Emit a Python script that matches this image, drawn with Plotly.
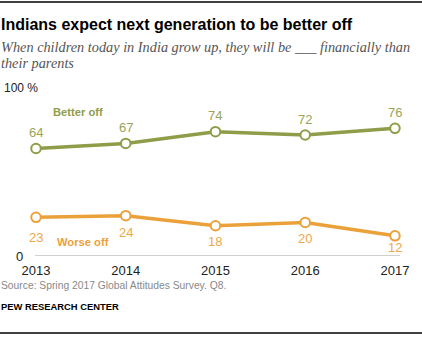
import plotly.graph_objects as go

years = [2013, 2014, 2015, 2016, 2017]
better_off = [64, 67, 74, 72, 76]
worse_off = [23, 24, 18, 20, 12]

GREEN = "#8f9c48"
GREEN_TXT = "#9aa35a"
ORANGE = "#eba13a"
ORANGE_TXT = "#eda849"
SANS = "Liberation Sans, Arial"

W, H = 422, 337
L, R, T, B = 35, 22, 88, 81
PW, PH = W - L - R, H - T - B


def px(x):
    return (x - L) / PW


def py(y):
    return (H - B - y) / PH


fig = go.Figure()

for vals, color in [(better_off, GREEN), (worse_off, ORANGE)]:
    fig.add_trace(go.Scatter(
        x=years, y=vals, mode="lines+markers",
        line=dict(color=color, width=3.5),
        marker=dict(size=9.5, color="white", line=dict(color=color, width=2)),
        hoverinfo="skip", showlegend=False, cliponaxis=False,
    ))

ann = []
better_shift = [16, 16, 16, 16, 16]
worse_shift = [-20, -17, -16, -16, -12]
for x, v, s in zip(years, better_off, better_shift):
    ann.append(dict(x=x, y=v, text=str(v), showarrow=False, yshift=s,
                    xanchor="center", yanchor="middle",
                    font=dict(family=SANS, size=13, color=GREEN_TXT)))
for x, v, s in zip(years, worse_off, worse_shift):
    ann.append(dict(x=x, y=v, text=str(v), showarrow=False, yshift=s,
                    xanchor="center", yanchor="middle",
                    font=dict(family=SANS, size=13, color=ORANGE_TXT)))


def note(x, y, text, size, color, family=SANS, xanchor="left"):
    ann.append(dict(xref="paper", yref="paper", x=px(x), y=py(y), text=text,
                    xanchor=xanchor, yanchor="middle", showarrow=False,
                    font=dict(family=family, size=size, color=color)))


# series names
note(78, 112, "<b>Better off</b>", 11.2, GREEN, xanchor="center")
note(83, 242, "<b>Worse off</b>", 11.2, ORANGE, xanchor="center")

# axis end labels
note(2, 88, "100 %", 12, "#222")
note(25, 256, "0", 13, "#222", xanchor="right")

# title, subtitle, footer
note(-1, 24, "<b>Indians expect next generation to be better off</b>", 16, "#000")
note(-1, 47, "<i>When children today in India grow up, they will be ___ financially than</i>",
     14.3, "#555", family="Liberation Serif, Georgia")
note(-1, 63, "<i>their parents</i>", 14.3, "#555", family="Liberation Serif, Georgia")
note(-1, 285, "Source: Spring 2017 Global Attitudes Survey. Q8.", 10.3, "#888")
note(-1, 306, "<b>PEW RESEARCH CENTER</b>", 9.4, "#000")

shapes = [
    dict(type="line", xref="paper", yref="paper", x0=px(0), x1=px(422), y0=py(2), y1=py(2),
         line=dict(color="#000", width=1.5)),
    dict(type="line", xref="paper", yref="paper", x0=px(0), x1=px(422), y0=py(333), y1=py(333),
         line=dict(color="#000", width=1.5)),
    # zero baseline
    dict(type="line", xref="paper", yref="y", x0=0, x1=1, y0=0, y1=0,
         line=dict(color="#a0a0a0", width=1), layer="below"),
]

fig.update_layout(
    width=W, height=H, margin=dict(l=L, r=R, t=T, b=B),
    paper_bgcolor="white", plot_bgcolor="white",
    annotations=ann, shapes=shapes,
    xaxis=dict(range=[2012.989, 2017.056], tickvals=years, ticktext=[str(y) for y in years],
               showgrid=False, zeroline=False, showline=False, ticks="",
               ticklabelstandoff=5,
               tickfont=dict(family=SANS, size=13, color="#222")),
    yaxis=dict(range=[0, 100], showgrid=False, zeroline=False, showticklabels=False,
               fixedrange=True),
)

fig.write_html("out.html")
